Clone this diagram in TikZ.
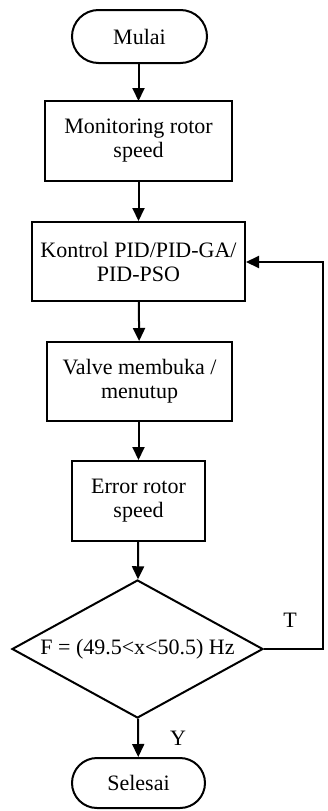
\documentclass[tikz,border=0pt]{standalone}
\usepackage{fontspec}
\setmainfont{Liberation Serif}
\usetikzlibrary{arrows.meta,shapes.misc,shapes.geometric}
\begin{document}
\begin{tikzpicture}[x=1pt,y=-1pt,
  every node/.style={font=\fontsize{22}{24}\selectfont},
  proc/.style={draw,line width=2pt,rectangle,align=center,inner sep=0pt},
  term/.style={draw,line width=2pt,rounded rectangle,inner sep=0pt},
  flow/.style={line width=2pt,-{Triangle[length=13pt,width=12pt]}},
  lbl/.style={inner sep=0pt}]
\useasboundingbox (0,0) rectangle (327,811);
\node[term,minimum width=135pt,minimum height=53pt] (start) at (139.5,36.5) {Mulai};
\node[proc,minimum width=187pt,minimum height=80pt] (mon) at (138.5,141) {Monitoring rotor\\speed};
\node[proc,minimum width=213pt,minimum height=79pt] (pid) at (138.5,261.5) {Kontrol PID/PID-GA/\\PID-PSO};
\node[proc,minimum width=185pt,minimum height=79pt] (valve) at (139.5,381.5) {Valve membuka /\\menutup};
\node[proc,minimum width=133pt,minimum height=80pt] (err) at (138.5,501) {Error rotor\\speed};
\node[draw,line width=2pt,diamond,minimum width=251pt,minimum height=138pt,inner sep=0pt] (dec) at (137.5,649) {};
\node[lbl] at (dec.center) {F = (49.5<x<50.5) Hz};
\node[term,minimum width=133pt,minimum height=50pt] (stop) at (138.5,783) {Selesai};
\coordinate (fb1) at (323,649);
\coordinate (fb2) at (323,262);
\draw[flow] (start.south -| 138.5,0) -- (138.5,101);
\draw[flow] (mon) -- (pid);
\draw[flow] (pid) -- (valve);
\draw[flow] (valve.south -| err) -- (err);
\draw[flow] (err) -- (dec);
\draw[flow] (dec) -- (stop);
\draw[flow] (dec.east) -- (fb1) -- (fb2) -- (pid.east |- fb2);
\node[lbl] at (290,620) {T};
\node[lbl] at (178,738) {Y};
\end{tikzpicture}
\end{document}
